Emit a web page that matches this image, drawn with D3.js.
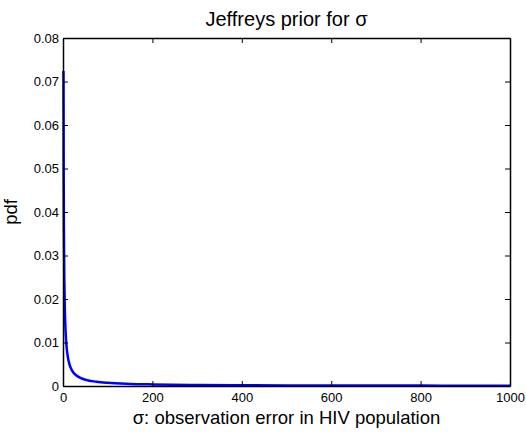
<!DOCTYPE html>
<html>
<head>
<meta charset="utf-8">
<script src="https://cdn.jsdelivr.net/npm/d3@7/dist/d3.min.js"></script>
<style>
  html, body { margin: 0; padding: 0; background: #fff; }
  svg { display: block; font-family: "Liberation Sans", Arial, Helvetica, sans-serif; }
</style>
</head>
<body>
<svg id="chart" width="526" height="434"></svg>
<script>
// Jeffreys prior density for sigma, sampled at a set of sigma values
const sigma = [1, 1.5, 2, 3, 4, 5, 7, 10, 15, 20, 30, 40, 50, 75, 100, 150, 200, 300, 400, 500, 600, 700, 800, 900, 1000];
const pdf = [0.0724, 0.0483, 0.0362, 0.0241, 0.0181, 0.0145, 0.0103, 0.0072, 0.0048, 0.0036, 0.0024, 0.0018, 0.00145,
             0.00097, 0.00072, 0.00048, 0.00036, 0.00024, 0.00018, 0.00014, 0.00012, 0.0001, 0.00009, 0.00008, 0.00007];
const xTicks = [0, 200, 400, 600, 800, 1000];
const yTicks = [0, 0.01, 0.02, 0.03, 0.04, 0.05, 0.06, 0.07, 0.08];

const margin = { left: 63, right: 16, top: 38, bottom: 48 };
const W = 526, H = 434;
const svg = d3.select("#chart");

const x = d3.scaleLinear().domain([0, 1000]).range([margin.left, W - margin.right]);
const y = d3.scaleLinear().domain([0, 0.08]).range([H - margin.bottom, margin.top]);

const tickLen = 5;

// density curve
const line = d3.line()
  .x((d, i) => x(sigma[i]))
  .y(d => y(d))
  .curve(d3.curveMonotoneX);

svg.append("path")
  .datum(pdf)
  .attr("d", line)
  .attr("fill", "none")
  .attr("stroke", "#0000ff")
  .attr("stroke-width", 2.5)
  .attr("stroke-linejoin", "round");

// box axes with inward ticks on all four sides
const fmtY = d => d === 0 ? "0" : d3.format(".2f")(d);
const axisB = d3.axisBottom(x).tickValues(xTicks).tickSizeInner(-tickLen).tickSizeOuter(0).tickPadding(7).tickFormat(d3.format("d"));
const axisT = d3.axisTop(x).tickValues(xTicks).tickSizeInner(-tickLen).tickSizeOuter(0).tickFormat("");
const axisL = d3.axisLeft(y).tickValues(yTicks).tickSizeInner(-tickLen).tickSizeOuter(0).tickPadding(4).tickFormat(fmtY);
const axisR = d3.axisRight(y).tickValues(yTicks).tickSizeInner(-tickLen).tickSizeOuter(0).tickFormat("");

function style(g) {
  g.select(".domain").attr("stroke", "#000").attr("stroke-width", 1.5);
  g.selectAll(".tick line").attr("stroke", "#000").attr("stroke-width", 1);
  g.selectAll(".tick text").attr("fill", "#000").style("font-size", "13px")
    .style("font-family", "'Liberation Sans', Arial, Helvetica, sans-serif");
}

svg.append("g").attr("transform", `translate(0,${y(0)})`).call(axisB).call(style);
svg.append("g").attr("transform", `translate(0,${y(0.08)})`).call(axisT).call(style);
svg.append("g").attr("transform", `translate(${x(0)},0)`).call(axisL).call(style);
svg.append("g").attr("transform", `translate(${x(1000)},0)`).call(axisR).call(style);

// title and axis labels
svg.append("text")
  .attr("x", (x(0) + x(1000)) / 2)
  .attr("y", 26)
  .attr("text-anchor", "middle")
  .style("font-size", "20px")
  .text("Jeffreys prior for σ");

svg.append("text")
  .attr("x", (x(0) + x(1000)) / 2)
  .attr("y", 424)
  .attr("text-anchor", "middle")
  .style("font-size", "18.5px")
  .text("σ: observation error in HIV population");

svg.append("text")
  .attr("transform", `translate(17,${(y(0) + y(0.08)) / 2}) rotate(-90)`)
  .attr("text-anchor", "middle")
  .style("font-size", "18.5px")
  .text("pdf");
</script>
</body>
</html>
